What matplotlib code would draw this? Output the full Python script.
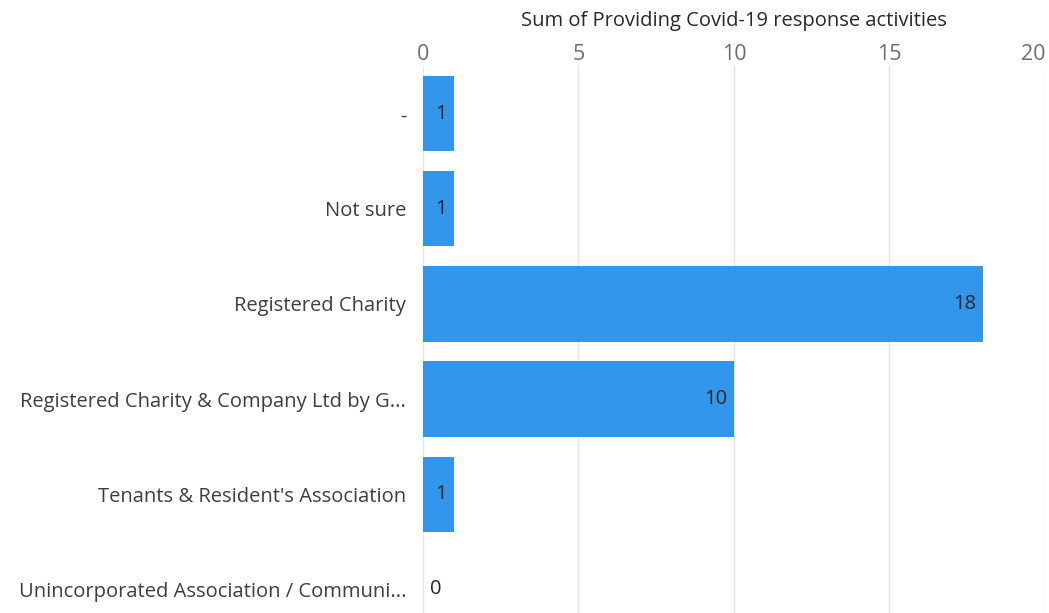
import matplotlib.pyplot as plt

categories = [
    "-",
    "Not sure",
    "Registered Charity",
    "Registered Charity & Company Ltd by G...",
    "Tenants & Resident's Association",
    "Unincorporated Association / Communi...",
]
values = [1, 1, 18, 10, 1, 0]
x_ticks = [0, 5, 10, 15, 20]
axis_title = "Sum of Providing Covid-19 response activities"

bar_color = "#3296ED"
label_color = "#3E3E3C"
grid_color = "#E1E5EA"

plt.rcParams["font.family"] = ["Open Sans", "DejaVu Sans"]

fig = plt.figure(figsize=(10.49, 6.13), dpi=100)
ax = fig.add_axes([0.4032, 0.0, 0.5930, 0.892])

pos = list(range(len(categories)))
ax.barh(pos, values, height=0.79, color=bar_color, zorder=2)

ax.set_xlim(0, 20)
ax.set_ylim(5.25, -0.5)
ax.set_xticks(x_ticks)
ax.set_yticks(pos)
ax.set_yticklabels(categories)

ax.xaxis.tick_top()
ax.xaxis.set_label_position("top")
ax.set_xlabel(axis_title, fontsize=14.5, color="#2B2826", labelpad=12.5)
ax.tick_params(axis="x", length=0, labelsize=15.5, labelcolor="#706E6B", pad=1)
ax.tick_params(axis="y", length=0, labelsize=14.5, labelcolor=label_color, pad=12)
# keep the last tick label inside the figure
ax.get_xticklabels()[-1].set_ha("right")

ax.grid(axis="x", color=grid_color, linewidth=1, zorder=0)
for s in ax.spines.values():
    s.set_visible(False)

# value labels: inside the bar end, or just right of zero when empty
for p, v in zip(pos, values):
    if v > 0:
        ax.annotate(str(v), (v, p), xytext=(-5, 0), textcoords="offset points",
                    ha="right", va="center", fontsize=14.5, color="#2B2826", zorder=3)
    else:
        ax.annotate(str(v), (v, p), xytext=(5, 0), textcoords="offset points",
                    ha="left", va="center", fontsize=14.5, color="#2B2826", zorder=3)

fig.savefig("out.png", dpi=100)
